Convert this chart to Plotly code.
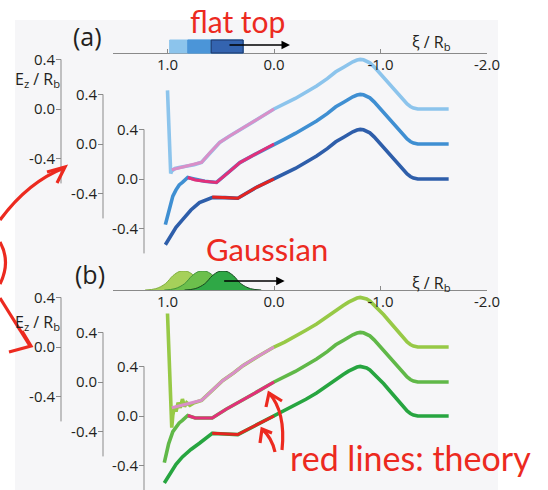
import plotly.graph_objects as go

W, H = 548, 490

# ---------------- data ----------------
x_tickvals = [1.0, 0.0, -1.0, -2.0]
x_ticktext = ["1.0", "0.0", "-1.0", "-2.0"]
y_tickvals = [0.4, 0.0, -0.4]
y_ticktext = ["0.4", "0.0", "-0.4"]

# common part of all wakes behind xi = 0
tail_xi = [0.0, -0.1, -0.2, -0.3, -0.4, -0.5, -0.58, -0.65, -0.70, -0.74, -0.78, -0.81, -0.84,
           -0.87, -0.90, -0.94, -0.98, -1.03, -1.08, -1.13, -1.18, -1.22, -1.25, -1.28, -1.31,
           -1.35, -1.40, -1.64]
tail_ez = [0.0, 0.04, 0.085, 0.135, 0.185, 0.245, 0.30, 0.335, 0.362, 0.381, 0.395, 0.40, 0.397,
           0.388, 0.372, 0.34, 0.30, 0.26, 0.21, 0.16, 0.11, 0.065, 0.04, 0.02, 0.008,
           0.0, 0.0, 0.0]

# panel (a) flat-top: simulation heads
lb_xi = [1.0, 0.985, 0.97, 0.96, 0.93, 0.88, 0.82, 0.75, 0.68, 0.60, 0.51, 0.42, 0.32, 0.16]
lb_ez = [0.15, -0.2, -0.52, -0.50, -0.48, -0.47, -0.46, -0.45, -0.43, -0.35, -0.27, -0.22, -0.17, -0.085]
mb_xi = [1.02, 1.0, 0.98, 0.95, 0.92, 0.89, 0.86, 0.81, 0.76, 0.65, 0.54, 0.43, 0.32, 0.16]
mb_ez = [-0.65, -0.58, -0.51, -0.42, -0.37, -0.33, -0.31, -0.27, -0.28, -0.30, -0.31, -0.23, -0.15, -0.075]
db_xi = [1.02, 0.98, 0.92, 0.86, 0.78, 0.70, 0.58, 0.46, 0.34, 0.16]
db_ez = [-0.53, -0.47, -0.39, -0.33, -0.25, -0.19, -0.15, -0.15, -0.155, -0.065]
# panel (a) theory
th_a1_xi = [0.96, 0.82, 0.68, 0.60, 0.51, 0.42, 0.32, 0.16, 0.0]
th_a1_ez = [-0.49, -0.46, -0.43, -0.35, -0.27, -0.22, -0.17, -0.085, 0.0]
th_a2_xi = [0.81, 0.74, 0.65, 0.54, 0.43, 0.32, 0.16, 0.0]
th_a2_ez = [-0.27, -0.29, -0.30, -0.31, -0.23, -0.15, -0.075, 0.0]
th_a3_xi = [0.58, 0.46, 0.34, 0.16, 0.0]
th_a3_ez = [-0.145, -0.15, -0.155, -0.065, 0.0]

# panel (b) Gaussian: simulation heads
lg_xi = [1.0, 0.98, 0.96, 0.95, 0.935, 0.92, 0.90, 0.88, 0.86, 0.84, 0.82, 0.79, 0.75, 0.68,
         0.58, 0.48, 0.38, 0.29, 0.14]
lg_ez = [0.27, -0.2, -0.65, -0.55, -0.48, -0.52, -0.45, -0.49, -0.42, -0.48, -0.45, -0.47, -0.45, -0.43,
         -0.35, -0.27, -0.21, -0.15, -0.07]
mg_xi = [1.03, 1.01, 0.99, 0.95, 0.92, 0.89, 0.86, 0.81, 0.74, 0.66, 0.58, 0.45, 0.32, 0.16]
mg_ez = [-0.65, -0.58, -0.50, -0.40, -0.36, -0.33, -0.31, -0.27, -0.29, -0.29, -0.29, -0.22, -0.16, -0.08]
dg_xi = [1.03, 0.98, 0.92, 0.86, 0.78, 0.70, 0.58, 0.46, 0.34, 0.16]
dg_ez = [-0.54, -0.47, -0.39, -0.33, -0.27, -0.22, -0.14, -0.145, -0.15, -0.07]
# panel (b) theory
th_b1_xi = [0.96, 0.82, 0.68, 0.58, 0.48, 0.38, 0.29, 0.14, 0.0]
th_b1_ez = [-0.49, -0.46, -0.43, -0.35, -0.27, -0.21, -0.15, -0.07, 0.0]
th_b2_xi = [0.81, 0.74, 0.66, 0.58, 0.45, 0.32, 0.16, 0.0]
th_b2_ez = [-0.27, -0.29, -0.29, -0.29, -0.22, -0.16, -0.08, 0.0]
th_b3_xi = [0.58, 0.46, 0.34, 0.16, 0.0]
th_b3_ez = [-0.14, -0.145, -0.15, -0.07, 0.0]

# beam profiles (insets)
flat_start = [0.98, 0.81, 0.59]
flat_end = [0.29, 0.29, 0.29]
gauss_center = [0.85, 0.67, 0.48]
gauss_dx = [0.36, 0.26, 0.17, 0.10, 0.04, 0.0, -0.04, -0.10, -0.17, -0.26, -0.36]
gauss_h = [0.0, 0.07, 0.33, 0.75, 0.97, 1.0, 0.97, 0.75, 0.33, 0.07, 0.0]

# ---------------- styling / layout constants ----------------
FONT = "Open Sans"
INK = "#231f20"
AX = "#8a8a8a"
HAND = "#ec2a1f"
blues = ["#8cc4ec", "#3f8fd2", "#2e5eaa"]
greens = ["#97c946", "#60b848", "#27a540"]
theory_cols = ["#d98fc8", "#e2307a", "#e52420"]
rect_cols = ["#8cc4ec", "#4b95d8", "#3464b0"]
gauss_fill = ["#a6d05a", "#6cbf4c", "#2fa846"]
gauss_line = ["#7fae3c", "#3f923a", "#16461f"]

S = 124.0     # px per unit Ez
XS = 106.5    # px per unit xi
X0PX = 274    # pixel of xi = 0
XL, XR = 113, 487


def px(x):
    return x / W


def py(y):
    return 1 - y / H


x_range = [(X0PX - XL) / XS, (X0PX - XR) / XS]

panels = [
    dict(xline=53, dom=(56, 266), zeros=(109, 144, 179), axx=(61, 103, 144),
         sims=[(lb_xi, lb_ez), (mb_xi, mb_ez), (db_xi, db_ez)], cols=blues,
         theo=[(th_a1_xi, th_a1_ez), (th_a2_xi, th_a2_ez), (th_a3_xi, th_a3_ez)]),
    dict(xline=290, dom=(293, 490), zeros=(347, 382, 416), axx=(61, 103, 144),
         sims=[(lg_xi, lg_ez), (mg_xi, mg_ez), (dg_xi, dg_ez)], cols=greens,
         theo=[(th_b1_xi, th_b1_ez), (th_b2_xi, th_b2_ez), (th_b3_xi, th_b3_ez)]),
]

fig = go.Figure()
layout = dict(
    width=W, height=H, margin=dict(l=0, r=0, t=0, b=0),
    paper_bgcolor="white", plot_bgcolor="rgba(0,0,0,0)",
    showlegend=False, font=dict(family=FONT, color=INK, size=15),
)
shapes = []
annotations = []

# background panel
shapes.append(dict(type="rect", xref="paper", yref="paper", x0=px(15), x1=px(498),
                   y0=py(490), y1=py(20), fillcolor="#f6f6f8", line=dict(width=0), layer="below"))

yn = 0
for pi, p in enumerate(panels):
    xname = "x" if pi == 0 else "x2"
    xkey = "xaxis" if pi == 0 else "xaxis2"
    layout[xkey] = dict(
        domain=[px(XL), px(XR)], range=x_range, anchor="free", position=py(p["xline"]),
        side="bottom", ticks="inside", ticklen=4, tickcolor=AX, showline=True, linecolor=AX,
        linewidth=1, showgrid=False, zeroline=False, tickvals=x_tickvals, ticktext=x_ticktext,
        tickfont=dict(family=FONT, size=15, color=INK), fixedrange=True, automargin=False,
        ticklabelstandoff=-2,
    )
    top, bot = p["dom"]
    for k in range(3):
        yn += 1
        yname = "y" if yn == 1 else f"y{yn}"
        ykey = "yaxis" if yn == 1 else f"yaxis{yn}"
        z = p["zeros"][k]
        layout[ykey] = dict(
            domain=[py(bot), py(top)], range=[(z - bot) / S, (z - top) / S],
            anchor="free", position=px(p["axx"][k]), side="left",
            ticks="outside", ticklen=5, tickcolor=AX, showline=False, showgrid=False,
            zeroline=False, tickvals=y_tickvals, ticktext=y_ticktext,
            tickfont=dict(family=FONT, size=15, color=INK), fixedrange=True, automargin=False,
            ticklabelstandoff=-2,
        )
        # axis line from 0.4 down to -0.6
        shapes.append(dict(type="line", xref="paper", yref=yname, x0=px(p["axx"][k]),
                           x1=px(p["axx"][k]), y0=y_tickvals[0], y1=-0.6,
                           line=dict(color=AX, width=1)))
        sx, sy = p["sims"][k]
        fig.add_trace(go.Scatter(x=sx + tail_xi, y=sy + tail_ez, xaxis=xname, yaxis=yname,
                                 mode="lines", line=dict(color=p["cols"][k], width=3.6),
                                 hoverinfo="skip"))
    # theory on top
    for k in range(3):
        idx = pi * 3 + k + 1
        yname = "y" if idx == 1 else f"y{idx}"
        tx, ty = p["theo"][k]
        fig.add_trace(go.Scatter(x=tx, y=ty, xaxis=xname, yaxis=yname, mode="lines",
                                 line=dict(color=theory_cols[k], width=3),
                                 hoverinfo="skip"))

# inset axis for the Gaussian bunches
layout["yaxis7"] = dict(domain=[py(290), py(271)], range=[0, 1], anchor="free", position=0,
                        visible=False, fixedrange=True)
for k in range(3):
    gx = [gauss_center[k] + d for d in gauss_dx]
    fig.add_trace(go.Scatter(x=gx, y=gauss_h, xaxis="x2", yaxis="y7", mode="lines",
                             fill="toself", fillcolor=gauss_fill[k],
                             line=dict(color=gauss_line[k], width=1, shape="spline"),
                             hoverinfo="skip"))

# flat-top bunches
for k in range(3):
    shapes.append(dict(type="rect", xref="x", yref="paper", x0=flat_start[k], x1=flat_end[k],
                       y0=py(53), y1=py(40), fillcolor=rect_cols[k],
                       line=dict(color="#1d3566" if k == 2 else rect_cols[k], width=1)))

# propagation arrows
for xref, yy, xhead in [("x", 45, -0.15), ("x2", 281, -0.10)]:
    annotations.append(dict(x=xhead, y=py(yy), xref=xref, yref="paper", ax=-62, ay=0,
                            text="", showarrow=True, arrowhead=2, arrowsize=1.3,
                            arrowwidth=1.3, arrowcolor="black"))


def note(txt, cx, cy, size, color=INK, family=FONT):
    return dict(x=px(cx), y=py(cy), xref="paper", yref="paper", text=txt, showarrow=False,
                xanchor="center", yanchor="middle",
                font=dict(family=family, size=size, color=color))


# labels
annotations += [note("(a)", 87, 36, 25), note("(b)", 90, 274, 25)]
for yy in (80, 322):
    annotations.append(note("E<sub>z</sub> / R<sub>b</sub>", 37, yy, 16))
for yy in (43, 283):
    annotations.append(note("ξ / R<sub>b</sub>", 431, yy, 16))

# handwritten-style notes
annotations += [
    note("flat top", 237, 21, 30, HAND, "Lato"),
    note("Gaussian", 267, 249, 31, HAND, "Lato"),
    note("red lines: theory", 410, 457, 34, HAND, "Lato"),
]


def P(x, y):
    return f"{px(x):.5f},{py(y):.5f}"


red_paths = [
    f"M {P(0, 220)} Q {P(28, 182)} {P(64, 168)}",
    f"M {P(47, 172)} L {P(65, 167)} L {P(57, 183)}",
    f"M {P(0, 242)} Q {P(11, 262)} {P(0, 284)}",
    f"M {P(0, 298)} L {P(30, 346)}",
    f"M {P(9, 352)} L {P(31, 346)} L {P(22, 331)}",
    f"M {P(282, 450)} Q {P(286, 412)} {P(269, 393)}",
    f"M {P(266, 407)} L {P(269, 393)} L {P(282, 401)}",
    f"M {P(275, 452)} Q {P(272, 438)} {P(262, 429)}",
    f"M {P(260, 443)} L {P(262, 429)} L {P(272, 433)}",
]
for d in red_paths:
    shapes.append(dict(type="path", xref="paper", yref="paper", path=d,
                       line=dict(color=HAND, width=3.2)))

layout["shapes"] = shapes
layout["annotations"] = annotations
fig.update_layout(**layout)
fig.write_html("out.html")
